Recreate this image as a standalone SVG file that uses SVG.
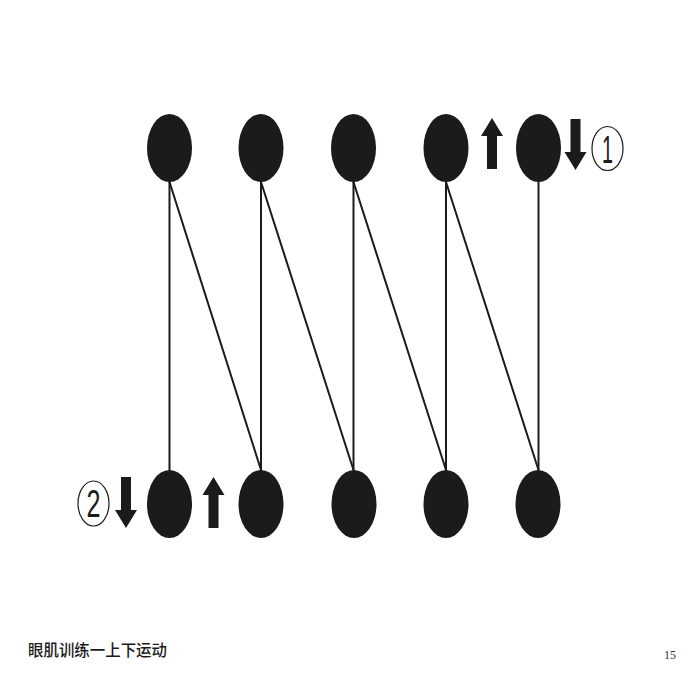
<svg xmlns="http://www.w3.org/2000/svg" xmlns:xlink="http://www.w3.org/1999/xlink" width="700" height="700" viewBox="0 0 700 700">
  <style>
    .dot { fill: #1c1a1a; }
    .line { stroke: #1c1a1a; stroke-width: 2; fill: none; stroke-linecap: round; }
    .arrow { fill: #1c1a1a; }
    .badge { fill: #ffffff; stroke: #1c1a1a; stroke-width: 1.2; }
    .num { font-family: "Liberation Sans", Arial, sans-serif; font-size: 38px; fill: #1c1a1a; text-anchor: middle; }
    .title { font-family: "Noto Sans CJK SC", "Noto Sans", sans-serif; font-size: 16px; font-weight: 500; fill: #1a1a1a; }
    .page { font-family: "Liberation Serif", serif; font-size: 12px; fill: #333333; }
  </style>
  <defs>
    <path id="arrowUp" d="M0,0 L11,18 L5,18 L5,51 L-5,51 L-5,18 L-11,18 Z"/>
  </defs>
  <rect width="700" height="700" fill="#ffffff"/>

  <g id="connectors">
    <line class="line" x1="169.5" y1="182" x2="169.5" y2="470"/>
    <line class="line" x1="169.5" y1="182" x2="261" y2="470"/>
    <line class="line" x1="261" y1="182" x2="261" y2="470"/>
    <line class="line" x1="261" y1="182" x2="353.5" y2="470"/>
    <line class="line" x1="353.5" y1="182" x2="353.5" y2="470"/>
    <line class="line" x1="353.5" y1="182" x2="446" y2="470"/>
    <line class="line" x1="446" y1="182" x2="446" y2="470"/>
    <line class="line" x1="446" y1="182" x2="538.5" y2="470"/>
    <line class="line" x1="538.5" y1="182" x2="538.5" y2="470"/>
  </g>

  <g id="top-1"><ellipse class="dot" cx="169.5" cy="148" rx="22.5" ry="34"/></g>
  <g id="top-2"><ellipse class="dot" cx="261" cy="148" rx="22.5" ry="34"/></g>
  <g id="top-3"><ellipse class="dot" cx="353.5" cy="148" rx="22.5" ry="34"/></g>
  <g id="top-4"><ellipse class="dot" cx="446" cy="148" rx="22.5" ry="34"/></g>
  <g id="top-5"><ellipse class="dot" cx="538.5" cy="148" rx="22.5" ry="34"/></g>

  <g id="bottom-1"><ellipse class="dot" cx="169.5" cy="504" rx="22.5" ry="34"/></g>
  <g id="bottom-2"><ellipse class="dot" cx="261" cy="504" rx="22.5" ry="34"/></g>
  <g id="bottom-3"><ellipse class="dot" cx="354" cy="504" rx="22.5" ry="34"/></g>
  <g id="bottom-4"><ellipse class="dot" cx="446" cy="504" rx="22.5" ry="34"/></g>
  <g id="bottom-5"><ellipse class="dot" cx="538" cy="504" rx="22.5" ry="34"/></g>

  <g id="arrows">
    <use xlink:href="#arrowUp" href="#arrowUp" class="arrow" transform="translate(492,118)"/>
    <use xlink:href="#arrowUp" href="#arrowUp" class="arrow" transform="translate(575.5,170) scale(1,-1)"/>
    <use xlink:href="#arrowUp" href="#arrowUp" class="arrow" transform="translate(126,528) scale(1,-1)"/>
    <use xlink:href="#arrowUp" href="#arrowUp" class="arrow" transform="translate(213.5,477)"/>
  </g>

  <g id="badge-1">
    <ellipse class="badge" cx="607.5" cy="148.5" rx="15.5" ry="22"/>
    <text class="num" x="607.5" y="162.5" textLength="11" lengthAdjust="spacingAndGlyphs">1</text>
  </g>
  <g id="badge-2">
    <ellipse class="badge" cx="93.5" cy="503.5" rx="15.5" ry="22.5"/>
    <text class="num" x="93.5" y="517" textLength="14" lengthAdjust="spacingAndGlyphs">2</text>
  </g>

  <text class="title" x="28" y="656" textLength="139" lengthAdjust="spacingAndGlyphs">眼肌训练一上下运动</text>
  <text class="page" x="664" y="659">15</text>
</svg>
